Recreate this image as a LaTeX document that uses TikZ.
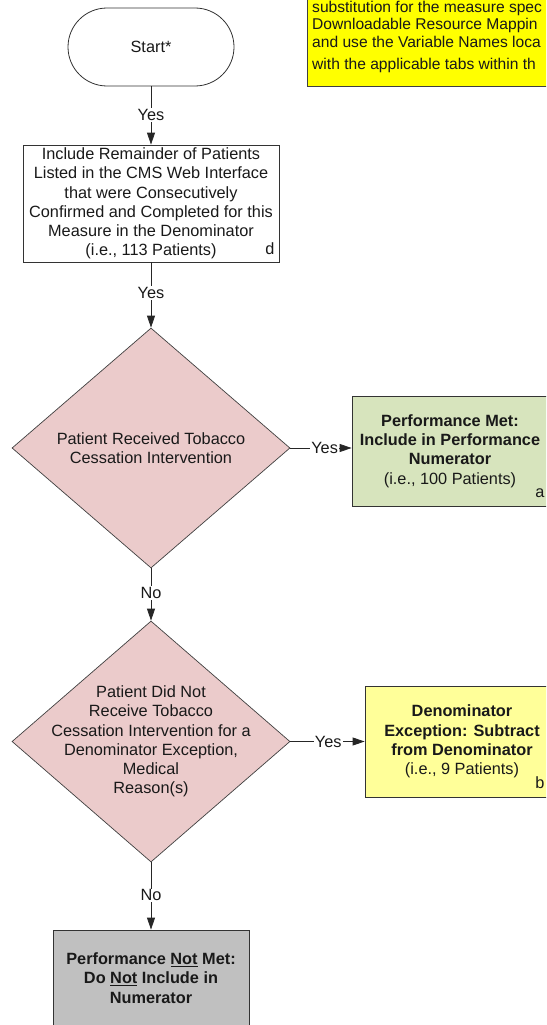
\documentclass[tikz,border=0pt]{standalone}
\usepackage{fontspec}
\setmainfont{Liberation Sans}
\usetikzlibrary{shapes.geometric,arrows.meta}
\definecolor{diafill}{HTML}{EBCBCB}
\definecolor{metfill}{HTML}{D7E4BD}
\definecolor{excfill}{HTML}{FFFF99}
\definecolor{notmetfill}{HTML}{C0C0C0}
\definecolor{notefill}{HTML}{FFFF00}
\begin{document}
\begin{tikzpicture}[x=1pt,y=-1pt,
  every node/.style={font=\fontsize{16.3}{19.3}\selectfont, text=black!90},
  box/.style={draw=black!80, line width=0.8pt, inner sep=0pt, align=center},
  dia/.style={draw=black!75, line width=0.7pt, shape=diamond, fill=diafill, minimum width=278pt, minimum height=240pt, inner sep=0pt},
  diatext/.style={align=center, inner sep=0pt},
  conn/.style={draw=black!85, line width=0.8pt, -{Triangle[length=12pt,width=8pt]}},
  lbl/.style={fill=white, inner sep=1pt},
  notetext/.style={anchor=west, inner sep=0pt, font=\fontsize{15.6}{17}\selectfont}
]
\useasboundingbox (0,0) rectangle (546,1025);
\clip (0,0) rectangle (546,1025);

% note box (top right)
\node[draw=black!75, line width=1.4pt, fill=notefill, minimum width=300pt, minimum height=110pt, anchor=south west, inner sep=0pt] (note) at (307,87) {};
\node[notetext] (n1) at (312,8) {substitution for the measure spec};
\node[notetext] (n2) at (312,25) {Downloadable Resource Mappin};
\node[notetext] (n3) at (312,42) {and use the Variable Names loca};
\node[notetext] (n4) at (312,65) {with the applicable tabs within th};

% start
\node[box, rounded corners=39pt, minimum width=166pt, minimum height=78pt] (start) at (151,47) {Start*};

% denominator rectangle
\node[box, minimum width=256pt, minimum height=117pt] (rect) at (151,203.5)
  {Include Remainder of Patients\\Listed in the CMS Web Interface\\that were Consecutively\\Confirmed and Completed for this\\Measure in the Denominator\\(i.e., 113 Patients)};
\node[inner sep=0pt] (dl) at (270,249) {d};

% diamond 1
\node[dia] (d1) at (151,448) {};
\node[diatext] (d1t) at (d1) {Patient Received Tobacco\\Cessation Intervention};

% performance met
\node[box, fill=metfill, minimum width=196pt, minimum height=110pt] (met) at (450,451)
  {\textbf{Performance Met:}\\\textbf{Include in Performance}\\\textbf{Numerator}\\(i.e., 100 Patients)};
\node[inner sep=0pt] (al) at (540,493) {a};

% diamond 2
\node[dia, minimum height=241pt] (d2) at (151,741.5) {};
\node[diatext] (d2t) at (d2) {Patient Did Not\\Receive Tobacco\\Cessation Intervention for a\\Denominator Exception,\\Medical\\Reason(s)};

% denominator exception
\node[box, fill=excfill, minimum width=194pt, minimum height=111pt] (exc) at (462,741.5)
  {\textbf{Denominator}\\\textbf{Exception: Subtract}\\\textbf{from Denominator}\\(i.e., 9 Patients)};
\node[inner sep=0pt] (bl) at (540,783) {b};

% performance not met
\node[box, fill=notmetfill, minimum width=196pt, minimum height=96pt] (notmet) at (151,978)
  {\textbf{Performance \underline{Not} Met:}\\\textbf{Do \underline{Not} Include in}\\\textbf{Numerator}};

% connectors
\draw[conn] (start) -- node[lbl, pos=0.49] {Yes} (rect);
\draw[conn] (rect) -- node[lbl, pos=0.47] {Yes} (d1);
\draw[conn] (d1.east) -- node[lbl, pos=0.56] {Yes} (d1.east -| met.west);
\draw[conn] (d1) -- node[lbl, pos=0.47] {No} (d2);
\draw[conn] (d2.east) -- node[lbl, pos=0.51] {Yes} (d2.east -| exc.west);
\draw[conn] (d2) -- node[lbl, pos=0.49] {No} (notmet);
\end{tikzpicture}
\end{document}
